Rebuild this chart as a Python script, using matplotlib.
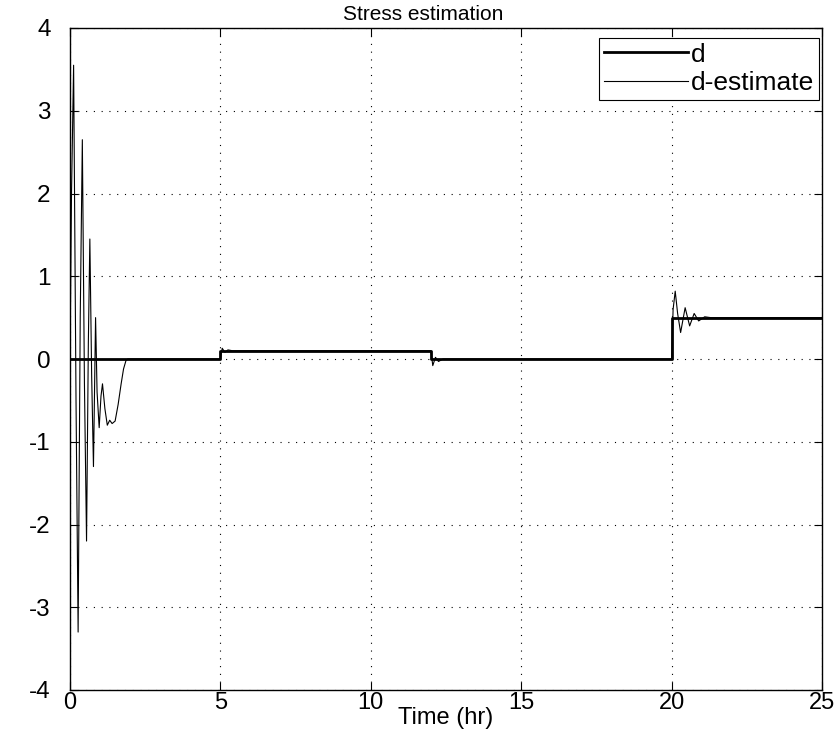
############################################
###  Import packages and set up variables
############################################

import numpy as np
from matplotlib import pyplot as plt

plt.rcParams['font.family'] = ['Liberation Sans', 'DejaVu Sans']
plt.rcParams['axes.unicode_minus'] = False     ### plain hyphen minus like the original

### true stress d: piecewise constant (switch times and levels)
d_switch_times = [0, 5, 12, 20, 25]
d_levels       = [0, 0.1, 0, 0.5, 0.5]

### estimated stress, vertices
est_time  = [0, 0.05, 0.12, 0.20, 0.27, 0.34, 0.41, 0.48, 0.55, 0.61,
             0.66, 0.72, 0.78, 0.85, 0.90, 0.97, 1.03, 1.08, 1.16, 1.24,
             1.32, 1.40, 1.50, 1.60, 1.70, 1.78, 1.86, 1.92,
             5.0, 5.06, 5.15, 5.25, 5.4,
             12.0, 12.06, 12.15, 12.25, 12.4,
             20.0, 20.05, 20.12, 20.2, 20.3, 20.45, 20.6, 20.75, 20.9, 21.1, 21.3,
             25.0]
est_value = [0, 2.0, 3.55, -0.5, -3.3, 0.5, 2.65, -0.3, -2.2, 0.2,
             1.45, -0.2, -1.3, 0.5, -0.4, -0.83, -0.45, -0.3, -0.6, -0.8,
             -0.74, -0.78, -0.75, -0.55, -0.3, -0.12, -0.02, 0,
             0, 0.13, 0.08, 0.11, 0.1,
             0.1, -0.08, 0.02, -0.03, 0.0,
             0, 0.6, 0.82, 0.55, 0.32, 0.62, 0.4, 0.55, 0.46, 0.51, 0.5,
             0.5]

x_ticks = [0, 5, 10, 15, 20, 25]
y_ticks = [-4, -3, -2, -1, 0, 1, 2, 3, 4]

######################
### Create the figure
######################

fig = plt.figure(figsize=(8.37, 7.3), dpi=100)
ax = fig.add_axes([70/837, 40/730, 752/837, 662/730])

ax.step(d_switch_times, d_levels, where="post", color="black", linewidth=2.0, label="d")
ax.plot(est_time, est_value, color="black", linewidth=0.8, label="d-estimate")

######################
### Add some style
######################

ax.set_xlim(0, 25)
ax.set_ylim(-4, 4)
ax.set_xticks(x_ticks)
ax.set_yticks(y_ticks)
ax.tick_params(direction="in", top=True, right=True, labelsize=17.5, length=6)
ax.tick_params(axis="x", pad=1.5, labelsize=17)
ax.tick_params(axis="y", pad=14)
ax.grid(True, linestyle=(0, (1, 6)), color="black", linewidth=0.8)
for s in ax.spines.values():
    s.set_linewidth(1.0)

ax.set_title("Stress estimation", fontsize=15, pad=6, x=0.47)
ax.set_xlabel("Time (hr)", fontsize=17, va="top")
ax.xaxis.set_label_coords(0.5, -0.026)

leg = ax.legend(loc="upper right", bbox_to_anchor=(0.996, 0.985), fontsize=19,
                frameon=True, fancybox=False, edgecolor="black", framealpha=1,
                handlelength=3.2, handletextpad=0.1, borderpad=0.18, labelspacing=0.17,
                borderaxespad=0)
leg.get_frame().set_linewidth(0.8)

plt.savefig("out.png", dpi=100)
